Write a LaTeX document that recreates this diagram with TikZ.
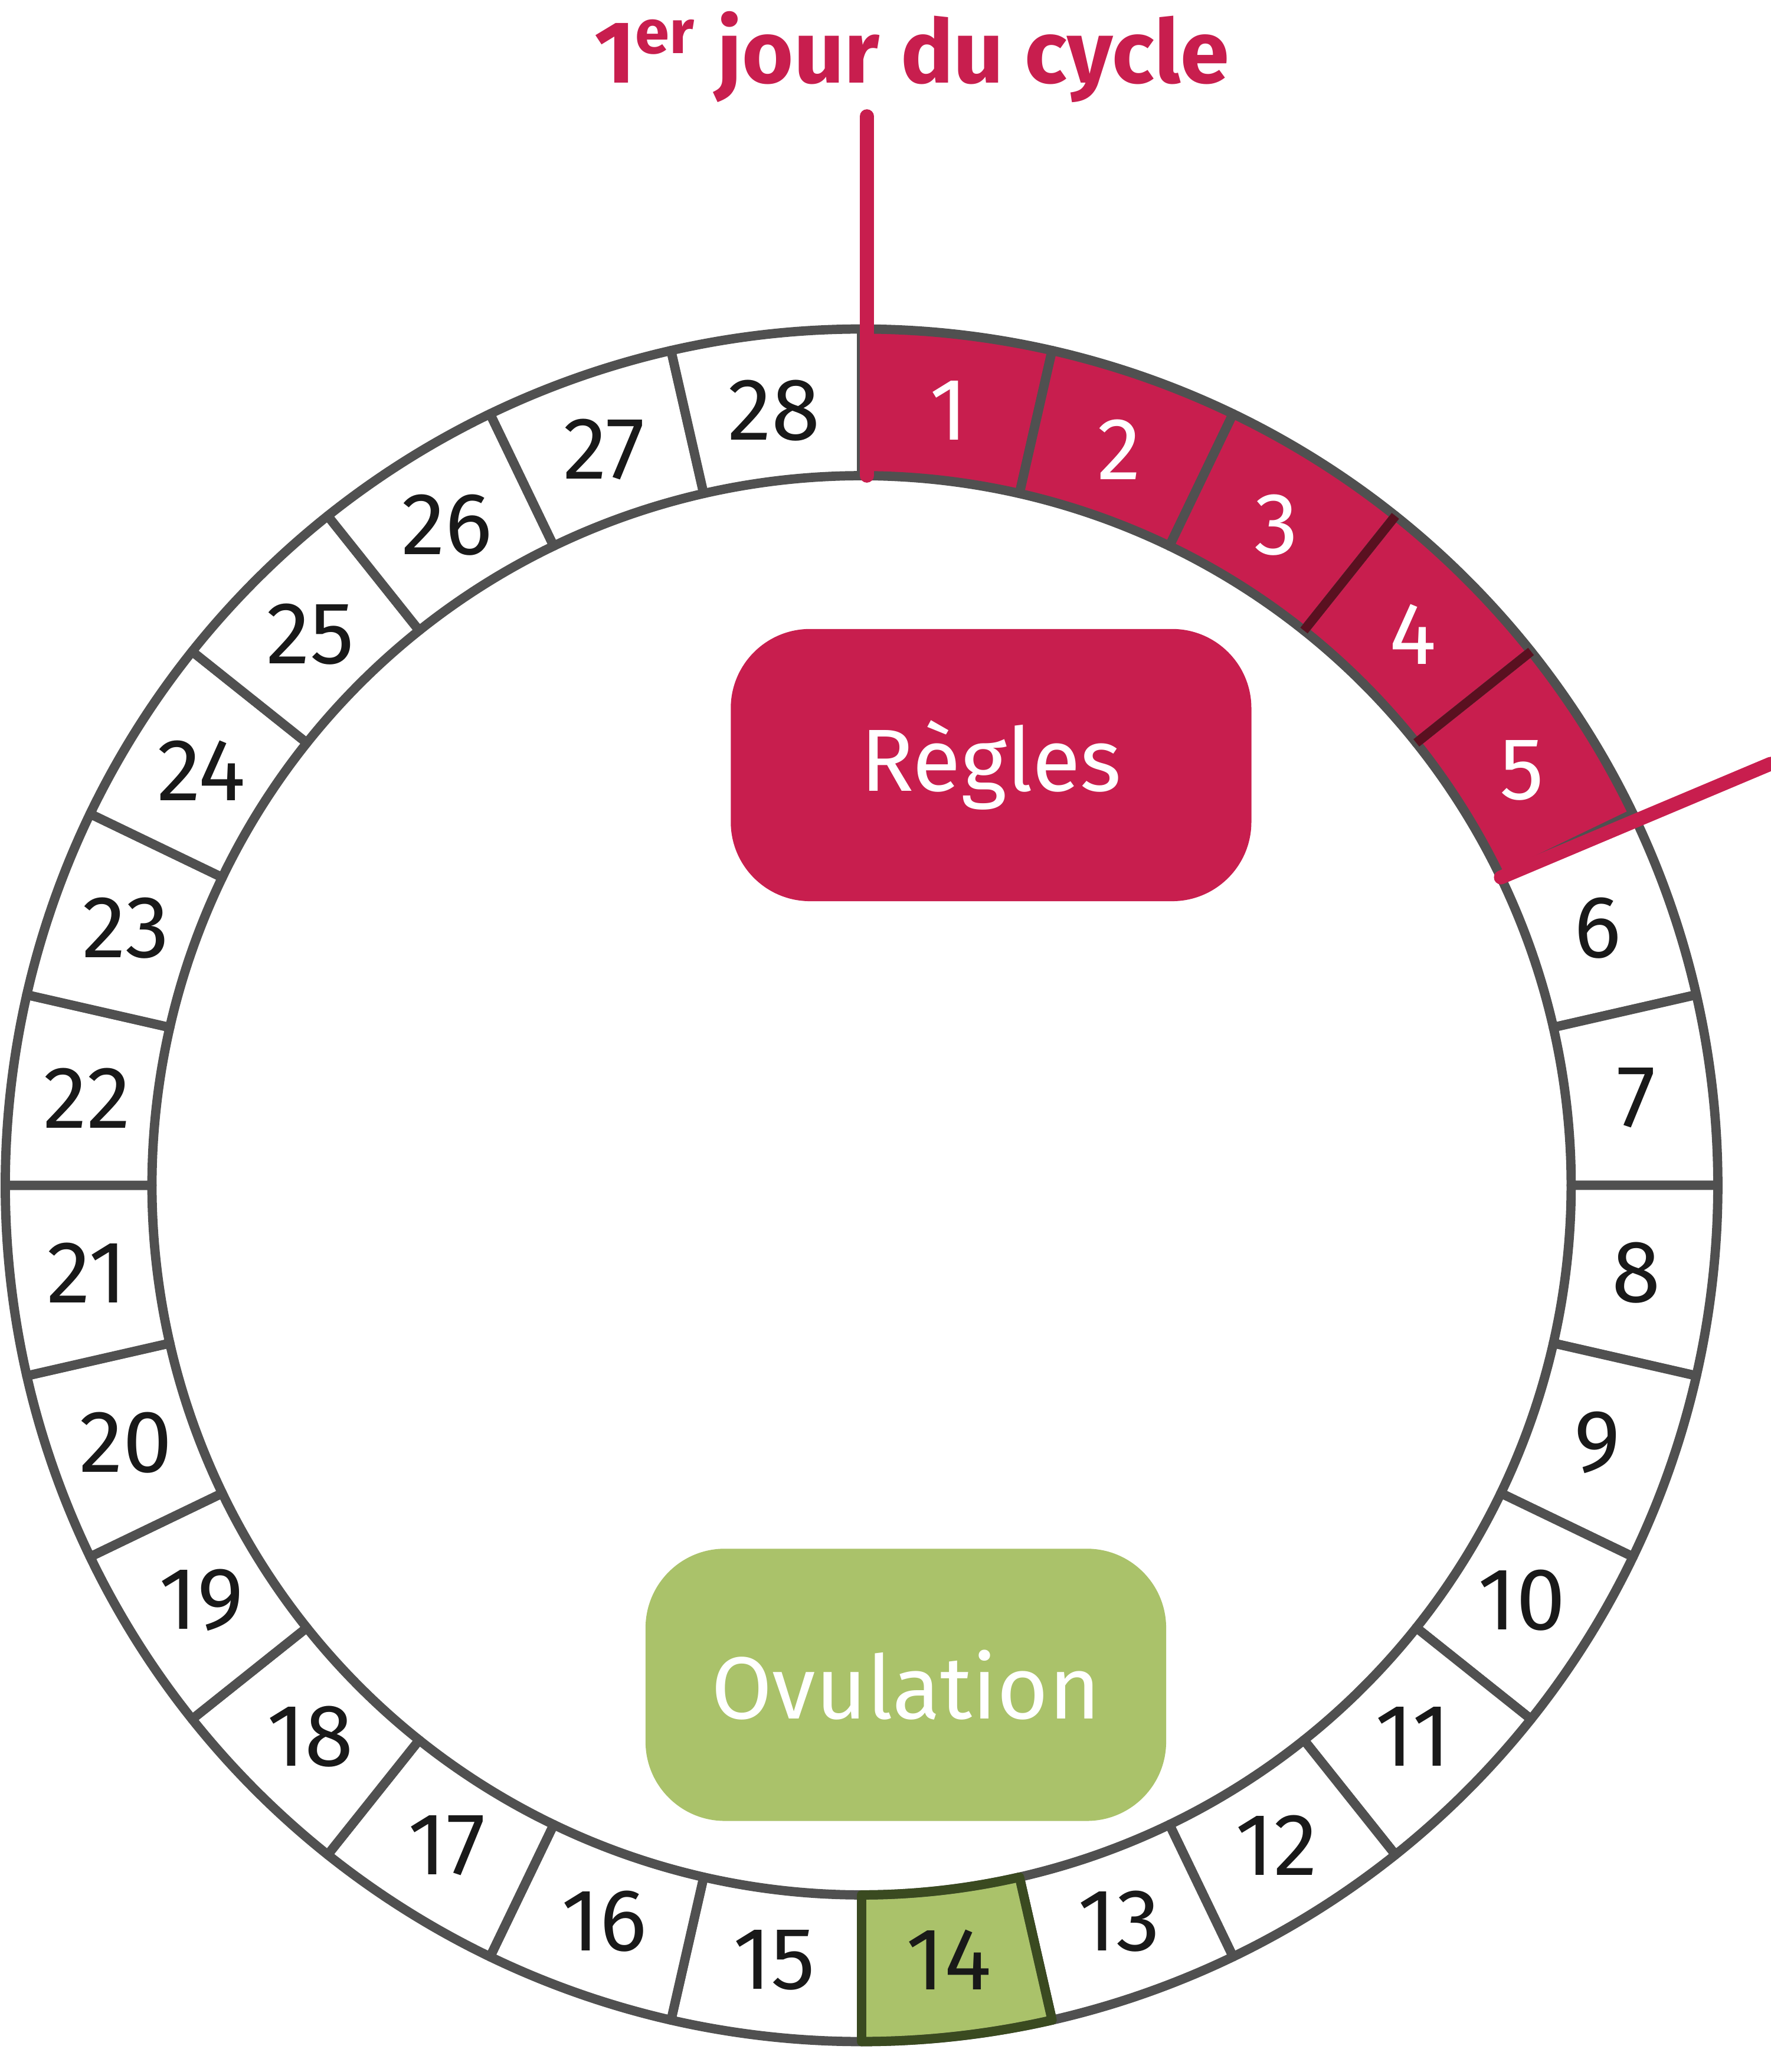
\documentclass[tikz,border=0pt]{standalone}
\usepackage{fontspec}
\setmainfont{Fira Sans}
\usetikzlibrary{positioning}
\definecolor{cyclered}{HTML}{C81E4E}
\definecolor{darkred}{HTML}{5A1020}
\definecolor{ovgreen}{HTML}{AAC26A}
\definecolor{darkgreen}{HTML}{3A4A20}
\definecolor{ringgray}{HTML}{505050}
\tikzset{
  daybox/.style={draw=ringgray,line width=2pt,line join=round},
  daylabel/.style={font=\fontsize{19}{19}\selectfont},
  phasebox/.style={rounded corners=0.6cm,minimum width=3.94cm,minimum height=2.06cm,text=white,font=\fontsize{19}{19}\selectfont},
  marker/.style={draw=cyclered,line width=3pt,line cap=round}
}
\begin{document}
\begin{tikzpicture}
\useasboundingbox (0,0) rectangle (13.4,15.68);
\def\ro{6.48}
\def\ri{5.37}
\def\rm{5.9}
\begin{scope}[shift={(6.52,6.71)}]
  % ring of days
  \foreach \d in {1,...,28}{
    \pgfmathsetmacro\a{90-(\d-1)*360/28}
    \pgfmathsetmacro\b{90-\d*360/28}
    \pgfmathsetmacro\m{90-(\d-0.5)*360/28}
    \ifnum\d<6 \def\fc{cyclered}\def\tc{white}\else\ifnum\d=14 \def\fc{ovgreen}\def\tc{black!90}\else\def\fc{white}\def\tc{black!90}\fi\fi
    \path[daybox,fill=\fc] (\a:\ro) arc[start angle=\a,end angle=\b,radius=\ro]
      -- (\b:\ri) arc[start angle=\b,end angle=\a,radius=\ri] -- cycle;
    \node[daylabel,text=\tc] (d\d) at (\m:\rm) {\d};
  }
  % highlighted borders
  \draw[darkgreen,line width=2pt,line join=round] ({90-13*360/28}:\ro) arc[start angle={90-13*360/28},end angle=-90,radius=\ro]
    -- (-90:\ri) arc[start angle=-90,end angle={90-13*360/28},radius=\ri] -- cycle;
  \draw[darkred,line width=2pt] ({90-3*360/28}:\ri) -- ({90-3*360/28}:\ro);
  \draw[darkred,line width=2pt] ({90-4*360/28}:\ri) -- ({90-4*360/28}:\ro);
  % markers
  \coordinate (s1) at (0.04,\ri);
  \coordinate (e5) at ({90-5*360/28}:\ri);
\end{scope}
\coordinate (top) at (6.56,14.8);
\coordinate (right) at (13.4,9.9);
\draw[marker] (s1) -- (top);
\draw[marker] (e5) -- (right);
\node[text=cyclered,font=\fontsize{19}{19}\selectfont\bfseries] (title) at (6.9,15.25) {1\textsuperscript{er} jour du cycle};
\node[phasebox,fill=cyclered] (regles) at (7.5,9.89) {Règles};
\node[phasebox,fill=ovgreen] (ovulation) at (6.855,2.93) {Ovulation};
\end{tikzpicture}
\end{document}
